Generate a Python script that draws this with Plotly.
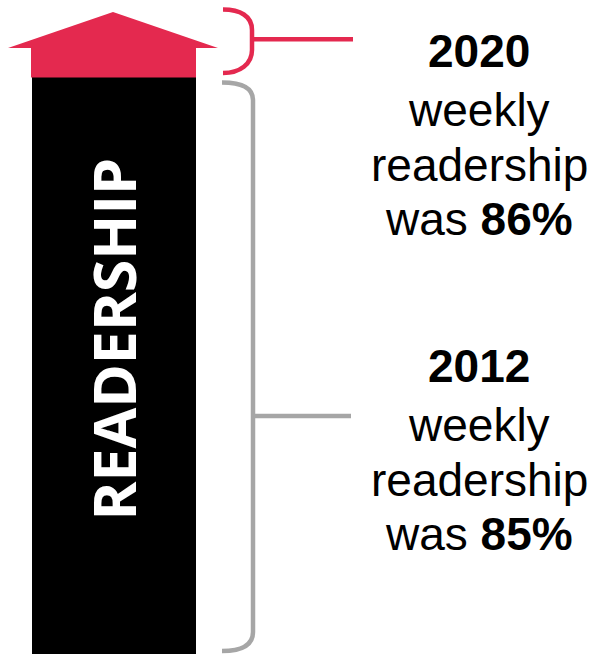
import plotly.graph_objects as go

# Readership figures shown beside the column
years = ["2020", "2012"]
readership_pct = [86, 85]
bar_label = "READERSHIP"

W, H = 596, 654
RED = "#E4294F"
GREY = "#A6A6A6"

fig = go.Figure()

# invisible trace so the axes exist
fig.add_trace(go.Scatter(x=[0, W], y=[0, H], mode="markers",
                         marker=dict(opacity=0), hoverinfo="skip", showlegend=False))

shapes = []
# black column
shapes.append(dict(type="rect", x0=32, x1=196, y0=77, y1=H,
                   fillcolor="black", line=dict(width=0), layer="below"))
# red arrow head: shaft + triangle
shapes.append(dict(type="rect", x0=31, x1=196, y0=47.5, y1=77.5,
                   fillcolor=RED, line=dict(width=0)))
shapes.append(dict(type="path", path="M 8 48 L 113 12 L 218 48 Z",
                   fillcolor=RED, line=dict(width=0)))

# red brace for the top section
shapes.append(dict(type="path",
                   path="M 223 9.5 C 240 9.5 252 16 252 30 L 252 50 "
                        "C 252 64 240 73 223 73",
                   line=dict(color=RED, width=4.5)))
shapes.append(dict(type="line", x0=252, x1=353, y0=39.3, y1=39.3,
                   line=dict(color=RED, width=4.5)))

# grey brace for the black column
shapes.append(dict(type="path",
                   path="M 222 82.5 C 242 82.5 253 88 253 100 L 253 632 "
                        "C 253 645 242 651 222 651",
                   line=dict(color=GREY, width=4.5)))
shapes.append(dict(type="line", x0=253, x1=351, y0=416, y1=416,
                   line=dict(color=GREY, width=4.5)))

annotations = []
FS = 46
FONT = "Liberation Sans, Arial, sans-serif"
block_tops = [51, 366]
offsets = [0, 59, 114, 168]
for yr, pct, top in zip(years, readership_pct, block_tops):
    lines = [f"<b>{yr}</b>", "weekly", "readership", f"was <b>{pct}%</b>"]
    for txt, off in zip(lines, offsets):
        annotations.append(dict(x=479, y=top + off, text=txt, showarrow=False,
                                xanchor="center", yanchor="middle",
                                font=dict(family=FONT, size=FS, color="black")))

annotations.append(dict(x=112.5, y=339, text=f"<b>{bar_label}</b>", showarrow=False,
                        textangle=-90, xanchor="center", yanchor="middle",
                        font=dict(family="Open Sans, sans-serif", size=59, color="white")))

fig.update_layout(
    width=W, height=H,
    margin=dict(l=0, r=0, t=0, b=0),
    paper_bgcolor="white", plot_bgcolor="white",
    xaxis=dict(range=[0, W], visible=False, fixedrange=True),
    yaxis=dict(range=[H, 0], visible=False, fixedrange=True),
    shapes=shapes, annotations=annotations,
    showlegend=False,
)

fig.write_html("out.html")
